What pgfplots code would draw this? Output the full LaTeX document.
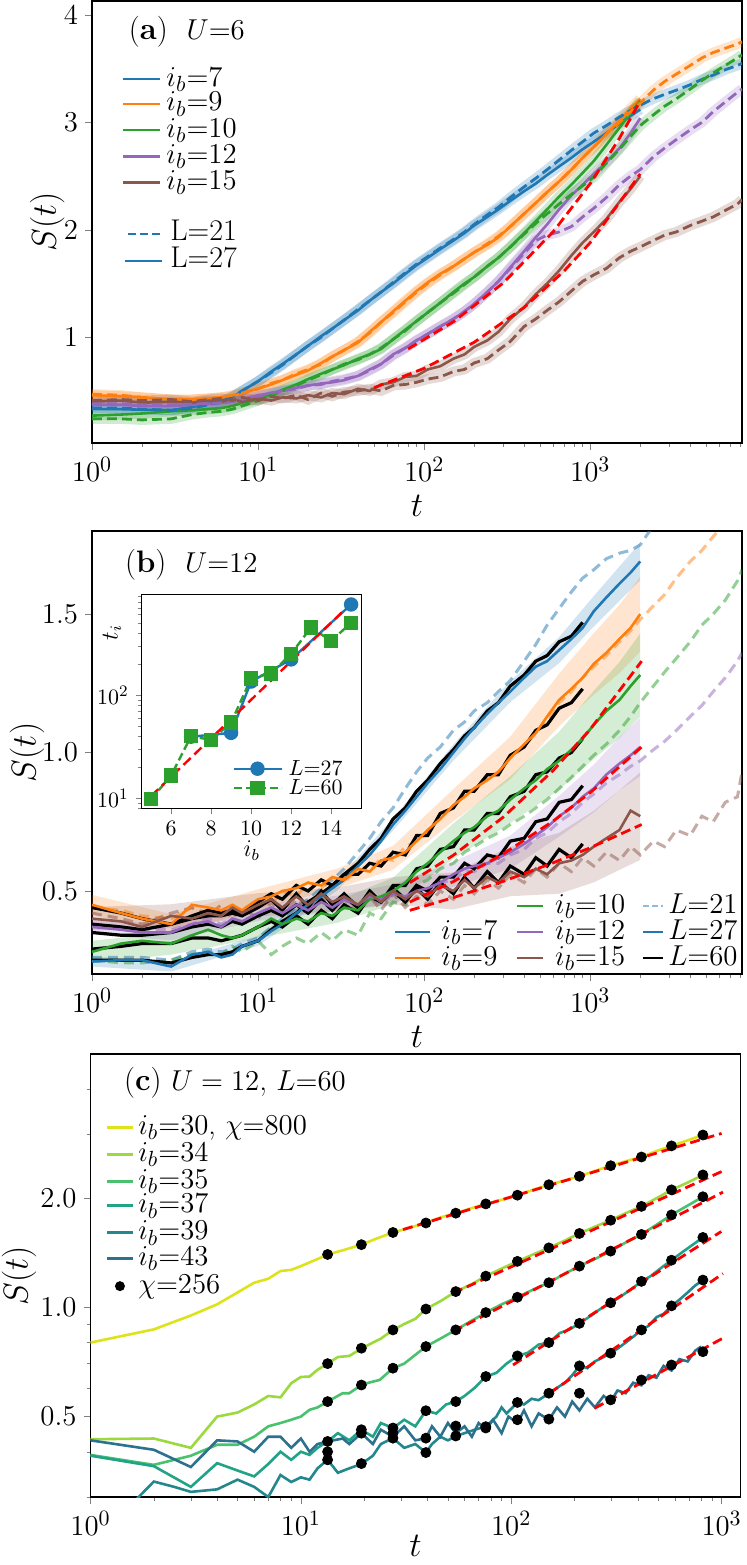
\documentclass[border=0pt]{standalone}
\usepackage{pgfplots}
\pgfplotsset{compat=1.18}
\usepackage{pgfplotstable}
\definecolor{tb}{HTML}{1F77B4}
\definecolor{to}{HTML}{FF7F0E}
\definecolor{tg}{HTML}{2CA02C}
\definecolor{tp}{HTML}{9467BD}
\definecolor{tr}{HTML}{8C564B}
\definecolor{c30}{HTML}{DDE318}
\definecolor{c34}{HTML}{9BD93C}
\definecolor{c35}{HTML}{4AC16D}
\definecolor{c37}{HTML}{20A386}
\definecolor{c39}{HTML}{23888E}
\definecolor{c43}{HTML}{2C718E}
\newcommand{\fT}{\fontsize{15}{15}\selectfont}
\newcommand{\fL}{\fontsize{16}{16}\selectfont}
\newcommand{\lsi}{\rule[-2pt]{0pt}{10pt}}
\tikzset{lg/.style={anchor=west, inner sep=0pt, text height=10pt, text depth=3pt, font=\fT}}

\pgfplotstableread{
t b o g p r
1 0.33 0.46 0.27 0.37 0.40
1.5 0.33 0.45 0.28 0.37 0.41
2 0.325 0.44 0.29 0.36 0.39
3 0.32 0.42 0.31 0.36 0.40
4 0.35 0.42 0.32 0.37 0.39
5 0.38 0.43 0.33 0.38 0.41
6 0.41 0.44 0.34 0.39 0.40
7 0.44 0.45 0.36 0.40 0.42
8 0.50 0.48 0.39 0.42 0.40
10 0.59 0.52 0.42 0.46 0.43
12 0.68 0.56 0.47 0.48 0.41
14 0.75 0.60 0.51 0.50 0.44
17 0.84 0.65 0.56 0.53 0.43
20 0.92 0.69 0.61 0.55 0.46
24 1.01 0.76 0.66 0.57 0.44
28 1.08 0.82 0.70 0.58 0.48
33 1.16 0.88 0.74 0.60 0.47
40 1.25 0.95 0.80 0.64 0.52
47 1.34 1.05 0.84 0.70 0.50
55 1.42 1.14 0.89 0.75 0.56
65 1.50 1.24 0.98 0.84 0.58
77 1.59 1.34 1.07 0.90 0.63
90 1.67 1.43 1.15 0.97 0.64
105 1.74 1.51 1.23 1.03 0.70
125 1.82 1.59 1.32 1.10 0.73
150 1.90 1.66 1.42 1.17 0.80
175 1.97 1.73 1.50 1.24 0.84
200 2.04 1.79 1.56 1.31 0.91
240 2.12 1.86 1.66 1.42 0.97
280 2.19 1.93 1.74 1.52 1.05
330 2.27 2.03 1.84 1.65 1.17
400 2.36 2.15 1.97 1.80 1.28
470 2.43 2.25 2.08 1.93 1.40
550 2.51 2.35 2.19 2.05 1.50
650 2.59 2.45 2.31 2.19 1.62
770 2.67 2.56 2.42 2.32 1.76
900 2.75 2.67 2.53 2.42 1.88
1050 2.82 2.77 2.64 2.52 1.98
1250 2.90 2.89 2.79 2.63 2.10
1500 2.99 3.02 2.95 2.76 2.26
1750 3.06 3.13 3.09 2.90 2.38
2000 3.12 3.22 3.20 3.04 2.50
}\Asol

\pgfplotstableread{
t b o g p r
1 0.34 0.47 0.24 0.38 0.41
1.5 0.34 0.46 0.24 0.38 0.42
2 0.33 0.44 0.23 0.37 0.41
3 0.32 0.42 0.24 0.37 0.42
4 0.34 0.42 0.28 0.38 0.40
5 0.37 0.43 0.30 0.38 0.42
6 0.40 0.44 0.31 0.39 0.43
7 0.45 0.46 0.33 0.40 0.41
8 0.50 0.48 0.36 0.42 0.44
10 0.59 0.52 0.41 0.45 0.41
12 0.67 0.57 0.46 0.48 0.45
14 0.74 0.60 0.50 0.50 0.43
17 0.84 0.66 0.55 0.52 0.46
20 0.92 0.70 0.60 0.55 0.42
24 1.00 0.75 0.65 0.56 0.48
28 1.08 0.82 0.70 0.59 0.45
33 1.16 0.88 0.75 0.61 0.49
40 1.26 0.96 0.79 0.64 0.50
47 1.34 1.04 0.84 0.69 0.52
55 1.42 1.14 0.90 0.75 0.50
65 1.51 1.23 0.98 0.83 0.55
77 1.60 1.33 1.06 0.90 0.56
90 1.68 1.42 1.15 0.97 0.58
105 1.75 1.50 1.23 1.03 0.61
125 1.83 1.58 1.32 1.10 0.63
150 1.91 1.66 1.41 1.17 0.68
175 1.98 1.73 1.49 1.24 0.70
200 2.05 1.79 1.56 1.31 0.76
240 2.14 1.87 1.66 1.42 0.80
280 2.21 1.94 1.74 1.52 0.88
330 2.30 2.03 1.84 1.64 0.96
400 2.40 2.15 1.96 1.78 1.10
470 2.48 2.25 2.06 1.90 1.17
550 2.56 2.35 2.15 1.95 1.25
650 2.65 2.45 2.24 1.98 1.33
770 2.74 2.56 2.33 2.03 1.43
900 2.82 2.67 2.41 2.12 1.52
1050 2.90 2.77 2.49 2.20 1.58
1250 2.97 2.89 2.62 2.30 1.64
1500 3.05 3.00 2.75 2.42 1.74
1750 3.11 3.10 2.87 2.50 1.80
2000 3.16 3.18 2.97 2.56 1.84
2400 3.22 3.30 3.07 2.68 1.90
2800 3.26 3.38 3.15 2.76 1.95
3300 3.30 3.45 3.22 2.84 1.98
4000 3.35 3.53 3.31 2.93 2.04
4700 3.40 3.60 3.39 3.00 2.08
5500 3.44 3.65 3.46 3.10 2.12
6500 3.49 3.69 3.53 3.19 2.18
7700 3.53 3.73 3.60 3.28 2.24
8200 3.55 3.75 3.63 3.31 2.28
}\Adash

\pgfplotstableread{
t b o g p r
1 0.245 0.45 0.28 0.37 0.40
1.5 0.25 0.42 0.31 0.36 0.39
2 0.25 0.40 0.32 0.35 0.37
3 0.227 0.38 0.31 0.35 0.41
4 0.27 0.45 0.34 0.38 0.40
5 0.28 0.44 0.36 0.39 0.42
6 0.26 0.43 0.34 0.37 0.41
7 0.27 0.45 0.33 0.40 0.44
8 0.30 0.43 0.34 0.39 0.42
10 0.32 0.47 0.37 0.42 0.45
12 0.355 0.48 0.40 0.44 0.47
14 0.38 0.50 0.38 0.42 0.44
17 0.42 0.51 0.40 0.45 0.48
20 0.45 0.53 0.39 0.43 0.45
24 0.48 0.52 0.42 0.46 0.49
28 0.51 0.55 0.41 0.44 0.46
33 0.54 0.54 0.44 0.47 0.48
40 0.59 0.58 0.43 0.45 0.45
47 0.63 0.57 0.47 0.48 0.49
55 0.68 0.61 0.48 0.47 0.46
65 0.74 0.62 0.50 0.49 0.50
77 0.79 0.64 0.53 0.48 0.47
90 0.84 0.68 0.57 0.50 0.50
105 0.89 0.72 0.60 0.51 0.48
125 0.94 0.76 0.64 0.53 0.52
150 1.00 0.81 0.68 0.56 0.50
175 1.05 0.84 0.71 0.58 0.54
200 1.09 0.87 0.73 0.59 0.51
240 1.14 0.90 0.77 0.60 0.55
280 1.18 0.93 0.79 0.62 0.53
330 1.22 0.98 0.83 0.64 0.57
400 1.27 1.03 0.87 0.67 0.55
470 1.31 1.07 0.90 0.70 0.58
550 1.33 1.13 0.94 0.73 0.56
650 1.37 1.19 0.97 0.77 0.60
770 1.41 1.23 1.01 0.80 0.61
900 1.45 1.27 1.05 0.84 0.63
1050 1.51 1.32 1.10 0.87 0.66
1250 1.56 1.36 1.15 0.92 0.69
1500 1.61 1.41 1.19 0.96 0.72
1750 1.65 1.45 1.24 0.99 0.79
2000 1.69 1.50 1.28 1.02 0.77
}\Bsol

\pgfplotstableread{
t b o g p r
1 0.26 0.44 0.25 0.38 0.42
1.5 0.26 0.43 0.24 0.37 0.40
2 0.26 0.41 0.24 0.36 0.38
3 0.25 0.40 0.25 0.36 0.42
4 0.28 0.44 0.27 0.38 0.44
5 0.29 0.42 0.28 0.40 0.41
6 0.28 0.42 0.27 0.38 0.45
7 0.29 0.44 0.30 0.40 0.40
8 0.31 0.43 0.28 0.39 0.44
10 0.33 0.47 0.32 0.42 0.40
12 0.37 0.45 0.27 0.44 0.46
14 0.40 0.50 0.30 0.41 0.41
17 0.44 0.48 0.33 0.45 0.47
20 0.47 0.53 0.31 0.42 0.42
24 0.51 0.51 0.35 0.47 0.48
28 0.54 0.55 0.32 0.43 0.43
33 0.58 0.53 0.36 0.47 0.47
40 0.64 0.58 0.34 0.44 0.42
47 0.69 0.57 0.42 0.48 0.48
55 0.75 0.62 0.40 0.45 0.43
65 0.80 0.61 0.46 0.49 0.49
77 0.87 0.66 0.45 0.47 0.44
90 0.93 0.68 0.52 0.50 0.48
105 0.98 0.71 0.54 0.49 0.45
125 1.02 0.77 0.58 0.53 0.50
150 1.08 0.80 0.60 0.54 0.47
175 1.11 0.85 0.64 0.57 0.52
200 1.15 0.87 0.66 0.57 0.49
240 1.18 0.91 0.69 0.60 0.54
280 1.22 0.93 0.71 0.60 0.51
330 1.26 0.98 0.74 0.63 0.56
400 1.33 1.02 0.77 0.65 0.53
470 1.39 1.07 0.80 0.69 0.58
550 1.46 1.12 0.83 0.71 0.55
650 1.52 1.18 0.87 0.75 0.60
770 1.58 1.22 0.91 0.78 0.57
900 1.63 1.27 0.95 0.82 0.62
1050 1.66 1.31 0.99 0.85 0.59
1250 1.70 1.35 1.03 0.89 0.64
1500 1.72 1.40 1.08 0.92 0.61
1750 1.73 1.44 1.13 0.95 0.66
2000 1.75 1.48 1.18 0.97 0.63
2400 1.82 1.53 1.24 1.01 0.68
2800 1.88 1.57 1.29 1.04 0.66
3300 1.95 1.63 1.34 1.08 0.72
4000 2.0 1.69 1.40 1.13 0.70
4700 2.0 1.73 1.46 1.17 0.77
5500 2.0 1.78 1.50 1.22 0.75
6500 2.0 1.83 1.55 1.27 0.82
7700 2.0 1.88 1.62 1.33 0.84
8200 2.0 1.90 1.66 1.36 0.93
}\Bdash

\pgfplotstableread{
t b o g p r
1 0.25 0.44 0.29 0.35 0.38
1.5 0.25 0.42 0.30 0.34 0.37
2 0.25 0.40 0.31 0.34 0.36
3 0.24 0.38 0.31 0.35 0.38
4 0.26 0.41 0.33 0.37 0.40
5 0.27 0.43 0.33 0.38 0.41
6 0.27 0.42 0.32 0.37 0.41
7 0.28 0.43 0.33 0.39 0.42
8 0.30 0.42 0.34 0.38 0.41
10 0.32 0.46 0.37 0.41 0.44
12 0.36 0.49 0.39 0.43 0.47
14 0.39 0.47 0.37 0.41 0.43
17 0.42 0.52 0.41 0.45 0.49
20 0.46 0.50 0.38 0.42 0.44
24 0.49 0.54 0.43 0.47 0.50
28 0.52 0.52 0.40 0.43 0.45
33 0.56 0.56 0.45 0.48 0.49
40 0.60 0.56 0.42 0.44 0.44
47 0.65 0.60 0.48 0.49 0.50
55 0.69 0.59 0.46 0.46 0.46
65 0.76 0.64 0.52 0.51 0.50
77 0.80 0.63 0.52 0.47 0.46
90 0.86 0.70 0.58 0.52 0.51
105 0.90 0.70 0.59 0.50 0.47
125 0.96 0.78 0.65 0.55 0.53
150 1.01 0.80 0.66 0.55 0.49
175 1.06 0.86 0.72 0.60 0.55
200 1.09 0.86 0.72 0.58 0.51
240 1.15 0.92 0.78 0.63 0.57
280 1.18 0.92 0.78 0.62 0.53
330 1.24 0.99 0.84 0.68 0.59
400 1.28 1.02 0.86 0.69 0.56
470 1.33 1.08 0.92 0.75 0.62
550 1.35 1.10 0.93 0.76 0.59
650 1.40 1.16 0.98 0.82 0.65
770 1.42 1.18 1.00 0.83 0.62
900 1.47 1.23 1.05 0.88 0.67
}\Bsixty

\begin{document}
\begin{tikzpicture}
\path[use as bounding box] (-46pt,0.5pt) rectangle (327.5pt,-782pt);

% ---------------- (a)
\begin{axis}[scale only axis, width=325pt, height=221pt, xmode=log, tick align=outside, tick pos=left,
  major tick length=3.5pt, minor tick length=2pt, axis line style={line width=0.6pt},
  tick label style={font=\fT}, label style={font=\fL}, xlabel={$t$}, ylabel={$S(t)$},
  ylabel style={at={(axis description cs:-0.069,0.5)}, anchor=center},
  at={(0pt,0pt)}, anchor=north west,
  xmin=1, xmax=8200, ymin=0.015, ymax=4.13, ytick={1,2,3,4}]
\addplot[tb, line width=5pt, opacity=0.22] table[x=t,y=b]{\Asol};
\addplot[to, line width=5pt, opacity=0.22] table[x=t,y=o]{\Asol};
\addplot[tg, line width=5pt, opacity=0.22] table[x=t,y=g]{\Asol};
\addplot[tp, line width=5pt, opacity=0.22] table[x=t,y=p]{\Asol};
\addplot[tr, line width=5pt, opacity=0.22] table[x=t,y=r]{\Asol};
\addplot[tb, line width=5pt, opacity=0.22] table[x=t,y=b]{\Adash};
\addplot[to, line width=5pt, opacity=0.22] table[x=t,y=o]{\Adash};
\addplot[tg, line width=5pt, opacity=0.22] table[x=t,y=g]{\Adash};
\addplot[tp, line width=5pt, opacity=0.22] table[x=t,y=p]{\Adash};
\addplot[tr, line width=5pt, opacity=0.22] table[x=t,y=r]{\Adash};
\addplot[tb, line width=1.3pt] table[x=t,y=b]{\Asol};
\addplot[to, line width=1.3pt] table[x=t,y=o]{\Asol};
\addplot[tg, line width=1.3pt] table[x=t,y=g]{\Asol};
\addplot[tp, line width=1.3pt] table[x=t,y=p]{\Asol};
\addplot[tr, line width=1.3pt] table[x=t,y=r]{\Asol};
\addplot[tb, line width=1.4pt, dash pattern=on 5pt off 2.5pt] table[x=t,y=b]{\Adash};
\addplot[to, line width=1.4pt, dash pattern=on 5pt off 2.5pt] table[x=t,y=o]{\Adash};
\addplot[tg, line width=1.4pt, dash pattern=on 5pt off 2.5pt] table[x=t,y=g]{\Adash};
\addplot[tp, line width=1.4pt, dash pattern=on 5pt off 2.5pt] table[x=t,y=p]{\Adash};
\addplot[tr, line width=1.4pt, dash pattern=on 5pt off 2.5pt] table[x=t,y=r]{\Adash};
\addplot[red, line width=1.4pt, dash pattern=on 5pt off 2.5pt] coordinates {(80,0.89) (150,1.144) (300,1.506) (600,1.984) (1000,2.43) (1500,2.853) (2000,3.2)};
\addplot[red, line width=1.4pt, dash pattern=on 5pt off 2.5pt] coordinates {(50,0.53) (100,0.71) (200,0.953) (400,1.277) (700,1.62) (1000,1.88) (2000,2.52)};
\draw[tb, line width=1.4pt] (axis description cs:0.048,0.8235) -- (axis description cs:0.105,0.8235);
\node[lg] at (axis description cs:0.114,0.8235) {$i_b{=}7$};
\draw[to, line width=1.4pt] (axis description cs:0.048,0.767) -- (axis description cs:0.105,0.767);
\node[lg] at (axis description cs:0.114,0.767) {$i_b{=}9$};
\draw[tg, line width=1.4pt] (axis description cs:0.048,0.708) -- (axis description cs:0.105,0.708);
\node[lg] at (axis description cs:0.114,0.708) {$i_b{=}10$};
\draw[tp, line width=1.4pt] (axis description cs:0.048,0.649) -- (axis description cs:0.105,0.649);
\node[lg] at (axis description cs:0.114,0.649) {$i_b{=}12$};
\draw[tr, line width=1.4pt] (axis description cs:0.048,0.590) -- (axis description cs:0.105,0.590);
\node[lg] at (axis description cs:0.114,0.590) {$i_b{=}15$};
\draw[tb, line width=1.4pt, dash pattern=on 4pt off 2pt] (axis description cs:0.055,0.473) -- (axis description cs:0.108,0.473);
\node[lg] at (axis description cs:0.12,0.473) {L=21};
\draw[tb, line width=1.4pt] (axis description cs:0.051,0.412) -- (axis description cs:0.108,0.412);
\node[lg] at (axis description cs:0.12,0.412) {L=27};
\node[anchor=west, font=\fontsize{15.5}{15.5}\selectfont] at (axis description cs:0.046,0.93) {(\textbf{a})\ \ $U{=}6$};
\end{axis}

% ---------------- (b)
\begin{axis}[scale only axis, width=325pt, height=221.5pt, xmode=log, tick align=outside, tick pos=left,
  major tick length=3.5pt, minor tick length=2pt, axis line style={line width=0.6pt},
  tick label style={font=\fT}, label style={font=\fL}, xlabel={$t$}, ylabel={$S(t)$},
  ylabel style={at={(axis description cs:-0.1,0.5)}, anchor=center},
  at={(0pt,-265pt)}, anchor=north west,
  xmin=1, xmax=8200, ymin=0.2, ymax=1.8, ytick={0.5,1.0,1.5}, yticklabels={$0.5$,$1.0$,$1.5$}]
\addplot[fill=tb, fill opacity=0.2, draw=none] coordinates {(1,0.263) (3,0.245) (10,0.338) (30,0.538) (65,0.762) (150,1.029) (330,1.258) (650,1.417) (1050,1.565) (1500,1.672) (2000,1.758) (2000,1.622) (1500,1.548) (1050,1.455) (650,1.323) (330,1.182) (150,0.971) (65,0.718) (30,0.502) (10,0.302) (3,0.209) (1,0.227)} -- cycle;
\addplot[fill=to, fill opacity=0.2, draw=none] coordinates {(1,0.486) (3,0.416) (10,0.506) (30,0.581) (65,0.663) (150,0.868) (330,1.057) (650,1.285) (1050,1.431) (1500,1.533) (2000,1.635) (2000,1.365) (1500,1.287) (1050,1.209) (650,1.095) (330,0.903) (150,0.752) (65,0.577) (30,0.509) (10,0.434) (3,0.344) (1,0.414)} -- cycle;
\addplot[fill=tg, fill opacity=0.2, draw=none] coordinates {(1,0.32) (3,0.35) (10,0.41) (30,0.465) (65,0.548) (150,0.744) (330,0.915) (650,1.075) (1050,1.223) (1500,1.327) (2000,1.43) (2000,1.13) (1500,1.053) (1050,0.977) (650,0.865) (330,0.745) (150,0.616) (65,0.452) (30,0.385) (10,0.33) (3,0.27) (1,0.24)} -- cycle;
\addplot[fill=tp, fill opacity=0.2, draw=none] coordinates {(1,0.398) (3,0.378) (10,0.448) (30,0.483) (65,0.524) (150,0.605) (330,0.70) (650,0.844) (1050,0.956) (1500,1.056) (2000,1.125) (2000,0.915) (1500,0.864) (1050,0.784) (650,0.696) (330,0.58) (150,0.515) (65,0.456) (30,0.427) (10,0.392) (3,0.322) (1,0.342)} -- cycle;
\addplot[fill=tr, fill opacity=0.2, draw=none] coordinates {(1,0.442) (3,0.452) (10,0.492) (30,0.512) (65,0.55) (150,0.567) (330,0.659) (650,0.71) (1050,0.789) (1500,0.864) (2000,0.928) (2000,0.612) (1500,0.576) (1050,0.531) (650,0.49) (330,0.481) (150,0.433) (65,0.45) (30,0.428) (10,0.408) (3,0.368) (1,0.358)} -- cycle;
\addplot[tb, draw opacity=0.5, line width=1.5pt, dash pattern=on 5pt off 3pt] table[x=t,y=b]{\Bdash};
\addplot[to, draw opacity=0.5, line width=1.5pt, dash pattern=on 5pt off 3pt] table[x=t,y=o]{\Bdash};
\addplot[tg, draw opacity=0.5, line width=1.5pt, dash pattern=on 5pt off 3pt] table[x=t,y=g]{\Bdash};
\addplot[tp, draw opacity=0.5, line width=1.5pt, dash pattern=on 5pt off 3pt] table[x=t,y=p]{\Bdash};
\addplot[tr, draw opacity=0.5, line width=1.5pt, dash pattern=on 5pt off 3pt] table[x=t,y=r]{\Bdash};
\addplot[black, line width=1.6pt] table[x=t,y=b]{\Bsixty};
\addplot[black, line width=1.6pt] table[x=t,y=o]{\Bsixty};
\addplot[black, line width=1.6pt] table[x=t,y=g]{\Bsixty};
\addplot[black, line width=1.6pt] table[x=t,y=p]{\Bsixty};
\addplot[black, line width=1.6pt] table[x=t,y=r]{\Bsixty};
\addplot[tb, line width=1.3pt] table[x=t,y=b]{\Bsol};
\addplot[to, line width=1.3pt] table[x=t,y=o]{\Bsol};
\addplot[tg, line width=1.3pt] table[x=t,y=g]{\Bsol};
\addplot[tp, line width=1.3pt] table[x=t,y=p]{\Bsol};
\addplot[tr, line width=1.3pt] table[x=t,y=r]{\Bsol};
\addplot[red, line width=1.4pt, dash pattern=on 5pt off 2.5pt] coordinates {(82,0.53) (150,0.629) (300,0.767) (600,0.936) (1000,1.084) (2040,1.33)};
\addplot[red, line width=1.4pt, dash pattern=on 5pt off 2.5pt] coordinates {(82,0.46) (150,0.534) (300,0.634) (600,0.753) (1000,0.855) (2040,1.02)};
\addplot[red, line width=1.4pt, dash pattern=on 5pt off 2.5pt] coordinates {(82,0.43) (150,0.476) (300,0.535) (600,0.602) (1000,0.656) (2040,0.74)};
\draw[tb, line width=1.4pt] (axis description cs:0.466,0.0948) -- (axis description cs:0.52,0.0948);
\node[lg] at (axis description cs:0.537,0.0948) {$i_b{=}7$};
\draw[to, line width=1.4pt] (axis description cs:0.466,0.0361) -- (axis description cs:0.52,0.0361);
\node[lg] at (axis description cs:0.537,0.0361) {$i_b{=}9$};
\draw[tg, line width=1.4pt] (axis description cs:0.654,0.1535) -- (axis description cs:0.694,0.1535);
\node[lg] at (axis description cs:0.712,0.1535) {$i_b{=}10$};
\draw[tp, line width=1.4pt] (axis description cs:0.654,0.0948) -- (axis description cs:0.694,0.0948);
\node[lg] at (axis description cs:0.712,0.0948) {$i_b{=}12$};
\draw[tr, line width=1.4pt] (axis description cs:0.654,0.0361) -- (axis description cs:0.694,0.0361);
\node[lg] at (axis description cs:0.712,0.0361) {$i_b{=}15$};
\draw[tb!50, line width=1.2pt, dash pattern=on 3pt off 1.5pt] (axis description cs:0.848,0.1535) -- (axis description cs:0.878,0.1535);
\node[lg] at (axis description cs:0.886,0.1535) {$L{=}21$};
\draw[tb, line width=1.2pt] (axis description cs:0.848,0.0948) -- (axis description cs:0.878,0.0948);
\node[lg] at (axis description cs:0.886,0.0948) {$L{=}27$};
\draw[black, line width=1.2pt] (axis description cs:0.848,0.0361) -- (axis description cs:0.878,0.0361);
\node[lg] at (axis description cs:0.886,0.0361) {$L{=}60$};
\node[anchor=west, font=\fontsize{15.5}{15.5}\selectfont] at (axis description cs:0.04,0.923) {(\textbf{b})\ \ $U{=}12$};
\end{axis}

% ---------------- inset
\begin{axis}[at={(24.85pt,-296.65pt)}, anchor=north west, scale only axis, width=110pt, height=107pt,
  ymode=log, xmin=4.53, xmax=15.53, ymin=8, ymax=944, xtick={6,8,10,12,14},
  ytick={10,100}, minor ytick={8,9,20,30,40,50,60,70,80,90,200,300,400,500,600,700,800,900},
  tick align=outside, tick pos=left, major tick length=3pt, minor tick length=1.8pt,
  axis line style={line width=0.6pt},
  tick label style={font=\fontsize{11}{11}\selectfont}, label style={font=\fontsize{11.5}{11.5}\selectfont},
  xlabel={$i_b$}, xlabel style={yshift=4pt}, ylabel={$t_i$},
  ylabel style={at={(axis description cs:-0.135,0.82)}, anchor=center},
  axis background/.style={fill=white},
  legend cell align=left,
  legend style={draw=none, fill=none, inner sep=0pt, nodes={inner sep=0pt}, font=\fontsize{11}{11}\selectfont,
    at={(axis description cs:0.41,0.05)}, anchor=south west,
    /tikz/every odd column/.append style={column sep=3pt}},
  legend image code/.code={\draw[mark repeat=2,mark phase=2,#1] plot coordinates {(0pt,0pt) (12pt,0pt) (24pt,0pt)};}]
\addplot[tb, line width=1.2pt, mark=*, mark size=3pt] coordinates {(7,39.5) (9,43) (10,135) (12,221) (15,753)};
\addlegendentry{$L{=}27$\lsi}
\addplot[tg, line width=1.2pt, dash pattern=on 4pt off 2pt, mark=square*, mark size=3pt, mark options={solid}] coordinates {(5,9.8) (6,16.6) (7,40) (8,36.7) (9,54) (10,145) (11,162) (12,250) (13,452) (14,333) (15,501)};
\addlegendentry{$L{=}60$\lsi}
\addplot[red, line width=1.2pt, dash pattern=on 5pt off 2.5pt, forget plot] coordinates {(5,10.5) (15,770)};
\end{axis}

% ---------------- (c)
\begin{axis}[scale only axis, width=325pt, height=221.5pt, xmode=log, tick align=outside, tick pos=left,
  major tick length=3.5pt, minor tick length=2pt, axis line style={line width=0.6pt},
  tick label style={font=\fT}, label style={font=\fL}, xlabel={$t$}, ylabel={$S(t)$},
  xlabel style={yshift=7pt},
  ylabel style={at={(axis description cs:-0.11,0.5)}, anchor=center},
  at={(-0.75pt,-526.5pt)}, anchor=north west,
  xmin=1, xmax=1230, ymode=log, ymin=0.3, ymax=5,
  ytick={0.5,1,2}, yticklabels={$0.5$,$1.0$,$2.0$}, minor ytick={0.3,0.4,0.6,0.7,0.8,0.9,3,4}]
\addplot[c30, line width=1.3pt] coordinates {(1,0.80) (2,0.87) (3,0.95) (4,1.02) (5,1.10) (6,1.17) (7,1.20) (8,1.26) (9,1.27) (10,1.30) (12,1.36) (13.4,1.40) (16,1.44) (19.4,1.49) (23,1.55) (27.4,1.61) (33,1.66) (39.3,1.71) (46,1.77) (54.5,1.82) (65,1.88) (75.7,1.93) (90,1.98) (107,2.04) (127,2.11) (151,2.18) (180,2.24) (211,2.30) (250,2.38) (297,2.46) (350,2.53) (416,2.60) (490,2.70) (578,2.79) (690,2.89) (815,2.99)};
\addplot[c34, line width=1.3pt] coordinates {(1,0.433) (2,0.435) (3,0.41) (4,0.50) (5,0.513) (6,0.54) (7,0.57) (8,0.565) (9,0.618) (10,0.643) (11,0.645) (12,0.673) (13.4,0.70) (15,0.73) (17,0.735) (19.4,0.77) (22,0.80) (24,0.82) (27.4,0.867) (31,0.90) (35,0.93) (39.3,0.99) (46,1.04) (54.5,1.106) (65,1.16) (75.7,1.22) (90,1.28) (107,1.34) (127,1.40) (151,1.46) (180,1.53) (211,1.60) (250,1.67) (297,1.74) (350,1.82) (416,1.90) (490,2.00) (578,2.11) (690,2.21) (815,2.32)};
\addplot[c35, line width=1.3pt] coordinates {(1,0.392) (2,0.368) (3,0.39) (4,0.418) (5,0.418) (6,0.44) (7,0.47) (8,0.48) (9,0.49) (10,0.50) (11,0.522) (12,0.53) (13.4,0.55) (15.8,0.58) (17,0.58) (19.4,0.611) (21,0.62) (23.7,0.631) (27.4,0.68) (31,0.70) (35,0.74) (39.3,0.78) (46,0.82) (54.5,0.867) (65,0.92) (75.7,0.968) (90,1.02) (107,1.067) (127,1.12) (151,1.17) (180,1.24) (211,1.30) (250,1.36) (297,1.43) (350,1.51) (416,1.59) (490,1.69) (578,1.80) (690,1.91) (815,2.02)};
\addplot[c37, line width=1.3pt] coordinates {(1,0.39) (2,0.365) (3,0.32) (4,0.372) (5,0.355) (6,0.342) (7,0.37) (8,0.40) (9,0.38) (10,0.40) (11,0.392) (12,0.41) (13.4,0.427) (15,0.45) (17,0.43) (19.4,0.46) (22,0.44) (24,0.48) (27.4,0.465) (31,0.49) (35,0.47) (39.3,0.519) (44,0.51) (49,0.54) (54.5,0.55) (60,0.57) (67,0.60) (75.7,0.645) (85,0.66) (95,0.70) (107,0.735) (120,0.75) (135,0.79) (151,0.80) (170,0.85) (190,0.87) (211,0.904) (240,0.95) (265,0.99) (297,1.03) (330,1.07) (370,1.12) (416,1.18) (460,1.22) (520,1.29) (578,1.35) (650,1.42) (730,1.49) (815,1.56)};
\addplot[c39, line width=1.3pt] coordinates {(1.6,0.29) (2,0.331) (2.5,0.32) (3,0.31) (4,0.315) (5,0.335) (6,0.32) (7,0.30) (8,0.345) (9,0.33) (10,0.34) (11,0.335) (12,0.36) (13.4,0.38) (15,0.35) (17,0.36) (19.4,0.37) (22,0.39) (24,0.42) (27.4,0.436) (31,0.41) (35,0.42) (39.3,0.398) (42,0.42) (46,0.44) (50,0.43) (54.5,0.442) (60,0.45) (67,0.46) (75.7,0.469) (85,0.50) (90,0.53) (95,0.51) (107,0.547) (115,0.54) (125,0.56) (135,0.555) (151,0.58) (165,0.60) (180,0.62) (195,0.65) (211,0.69) (230,0.68) (250,0.71) (275,0.73) (297,0.748) (320,0.77) (350,0.80) (380,0.83) (416,0.867) (450,0.89) (490,0.94) (530,0.96) (578,1.01) (630,1.05) (690,1.10) (750,1.15) (815,1.19)};
\addplot[c43, line width=1.3pt] coordinates {(1,0.43) (2,0.405) (3,0.363) (4,0.43) (5,0.427) (6,0.40) (7,0.44) (8,0.44) (9,0.41) (10,0.435) (11,0.40) (12,0.42) (13.4,0.427) (15.8,0.435) (17,0.42) (19.4,0.45) (22,0.42) (24,0.46) (27.4,0.44) (31,0.47) (35,0.43) (39.3,0.436) (42,0.47) (46,0.44) (50,0.48) (54.5,0.45) (60,0.47) (65,0.44) (70,0.48) (75.7,0.46) (82,0.49) (90,0.45) (97,0.50) (107,0.48) (115,0.52) (125,0.47) (135,0.51) (151,0.49) (165,0.53) (180,0.50) (195,0.55) (211,0.52) (230,0.56) (250,0.53) (275,0.57) (297,0.55) (320,0.59) (350,0.58) (380,0.62) (416,0.61) (450,0.65) (490,0.64) (530,0.69) (578,0.67) (630,0.72) (690,0.71) (750,0.76) (800,0.78)};
\addplot[red, line width=1.4pt, dash pattern=on 5pt off 2.5pt] coordinates {(30.6,1.64) (1000,3.02)};
\addplot[red, line width=1.4pt, dash pattern=on 5pt off 2.5pt] coordinates {(52.9,1.095) (1000,2.37)};
\addplot[red, line width=1.4pt, dash pattern=on 5pt off 2.5pt] coordinates {(52.9,0.858) (1015,2.08)};
\addplot[red, line width=1.4pt, dash pattern=on 5pt off 2.5pt] coordinates {(102,0.694) (997,1.62)};
\addplot[red, line width=1.4pt, dash pattern=on 5pt off 2.5pt] coordinates {(152,0.58) (1015,1.24)};
\addplot[red, line width=1.4pt, dash pattern=on 5pt off 2.5pt] coordinates {(249,0.527) (1015,0.823)};
\addplot[only marks, mark=*, mark size=2.5pt, black] coordinates {
(13.4,1.40) (13.4,0.70) (13.4,0.55) (13.4,0.427) (13.4,0.38) (13.4,0.40)
(19.4,1.49) (19.4,0.772) (19.4,0.611) (19.4,0.46) (19.4,0.371) (19.4,0.45)
(27.4,1.61) (27.4,0.867) (27.4,0.68) (27.4,0.465) (27.4,0.436) (27.4,0.45)
(39.3,1.71) (39.3,0.99) (39.3,0.78) (39.3,0.519) (39.3,0.398) (39.3,0.436)
(54.5,1.82) (54.5,1.106) (54.5,0.867) (54.5,0.55) (54.5,0.442) (54.5,0.471)
(75.7,1.93) (75.7,1.22) (75.7,0.968) (75.7,0.645) (75.7,0.469) (75.7,0.465)
(107,2.04) (107,1.34) (107,1.067) (107,0.735) (107,0.547) (107,0.49)
(151,2.18) (151,1.46) (151,1.17) (151,0.80) (151,0.58) (151,0.492)
(211,2.30) (211,1.60) (211,1.30) (211,0.904) (211,0.69) (211,0.58)
(297,2.46) (297,1.74) (297,1.43) (297,1.03) (297,0.748) (297,0.556)
(416,2.60) (416,1.90) (416,1.59) (416,1.18) (416,0.867) (416,0.631)
(578,2.79) (578,2.11) (578,1.80) (578,1.35) (578,1.01) (578,0.694)
(815,2.99) (815,2.32) (815,2.02) (815,1.56) (815,1.19) (815,0.755)};
\draw[c30, line width=1.5pt] (axis description cs:0.0254,0.835) -- (axis description cs:0.0654,0.835);
\node[lg] at (axis description cs:0.073,0.835) {$i_b{=}30$, $\chi{=}800$};
\draw[c34, line width=1.5pt] (axis description cs:0.0254,0.774) -- (axis description cs:0.0654,0.774);
\node[lg] at (axis description cs:0.073,0.774) {$i_b{=}34$};
\draw[c35, line width=1.5pt] (axis description cs:0.0254,0.713) -- (axis description cs:0.0654,0.713);
\node[lg] at (axis description cs:0.073,0.713) {$i_b{=}35$};
\draw[c37, line width=1.5pt] (axis description cs:0.0254,0.657) -- (axis description cs:0.0654,0.657);
\node[lg] at (axis description cs:0.073,0.657) {$i_b{=}37$};
\draw[c39, line width=1.5pt] (axis description cs:0.0254,0.596) -- (axis description cs:0.0654,0.596);
\node[lg] at (axis description cs:0.073,0.596) {$i_b{=}39$};
\draw[c43, line width=1.5pt] (axis description cs:0.0254,0.5395) -- (axis description cs:0.0654,0.5395);
\node[lg] at (axis description cs:0.073,0.5395) {$i_b{=}43$};
\fill[black] (axis description cs:0.0453,0.476) circle (2.5pt);
\node[lg] at (axis description cs:0.073,0.476) {$\chi{=}256$};
\node[anchor=west, font=\fontsize{15.5}{15.5}\selectfont] at (axis description cs:0.041,0.935) {(\textbf{c}) $U = 12$, $L{=}60$};
\end{axis}
\end{tikzpicture}
\end{document}
